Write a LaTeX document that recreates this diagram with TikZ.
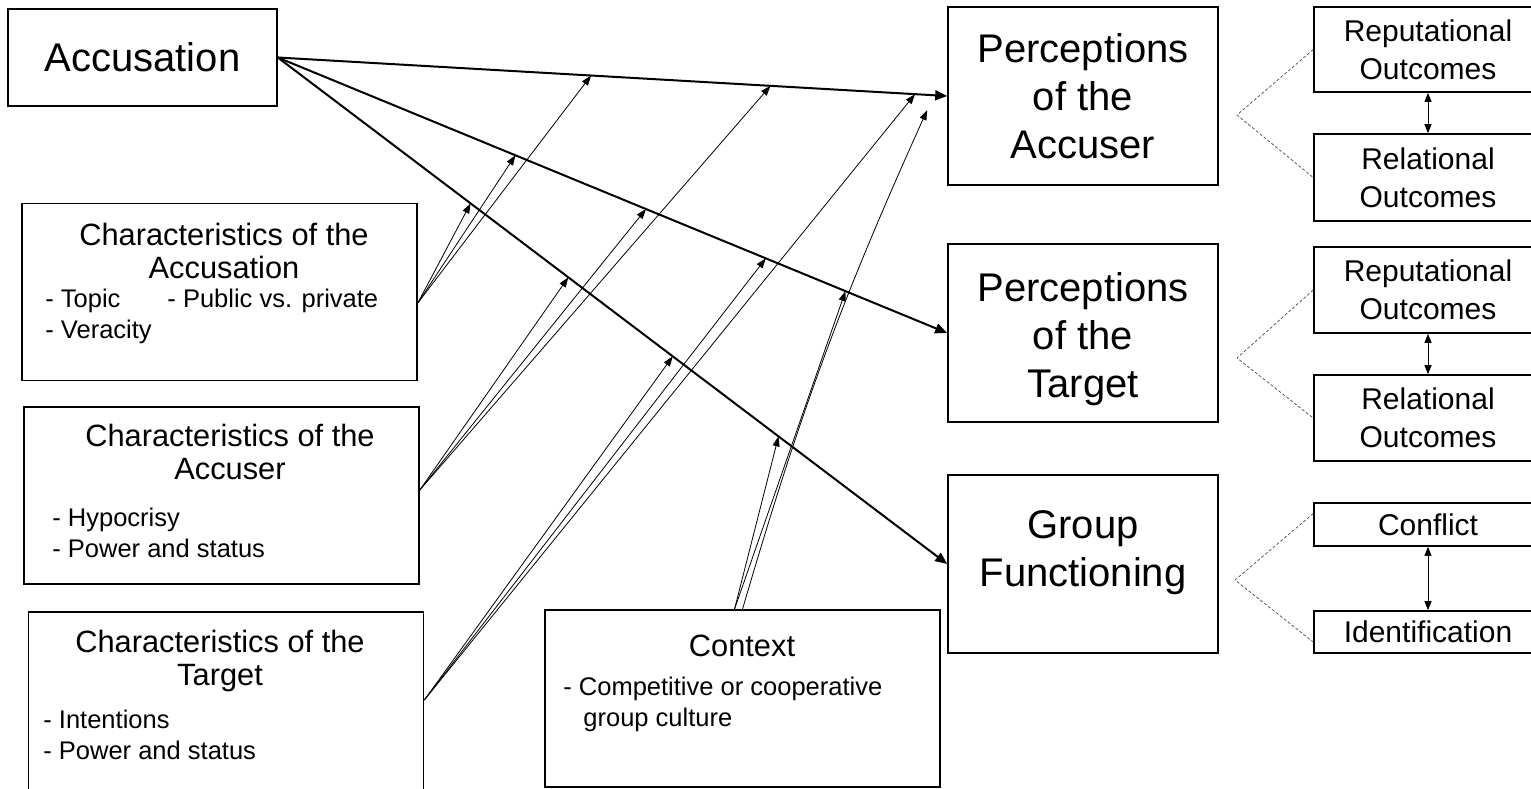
\documentclass[tikz,border=0pt]{standalone}
\usepackage{fontspec}
\setmainfont{Liberation Sans}
\usetikzlibrary{arrows.meta,positioning,calc}

\begin{document}
\begin{tikzpicture}[
        x=0.5pt, y=-0.5pt,
        box/.style={rectangle, draw, line width=0.8pt, inner sep=0pt},
        bigbox/.style={box, minimum width=135pt, minimum height=89pt, align=center, font=\fontsize{20}{24}\selectfont},
        bigtext/.style={inner sep=0pt, align=center, font=\fontsize{20}{24}\selectfont},
        charbox/.style={box, minimum width=197.5pt, minimum height=88.5pt},
        outbox/.style={box, minimum width=114pt, align=center, font=\fontsize{15}{19}\selectfont},
        headtext/.style={inner sep=0pt, align=center, font=\fontsize{15.4}{16.5}\selectfont},
        items/.style={inner sep=0pt, anchor=west, align=left, font=\fontsize{12.75}{15.5}\selectfont},
        main/.style={-{Triangle[length=6pt,width=5pt]}, line width=1pt},
        mod/.style={-{Triangle[length=5pt,width=3.5pt]}, line width=0.4pt},
        twoway/.style={{Triangle[length=4.5pt,width=3.5pt]}-{Triangle[length=4.5pt,width=3.5pt]}, line width=0.5pt},
        link/.style={dash pattern=on 1.5pt off 1pt, line width=0.35pt, black!70}
    ]
        \useasboundingbox (0,0) rectangle (1531,788);
        \fill[white] (0,0) rectangle (1531,788);

        % predictor and outcomes
        \node[box, minimum width=134.5pt, minimum height=48.5pt, font=\fontsize{20}{24}\selectfont] (acc) at (142.5,57.5) {Accusation};
        \node[bigbox] (pacc) at (1083,96) {Perceptions\\of the\\Accuser};
        \node[bigbox] (ptar) at (1083,333) {};
        \node[bigtext] (ptartext) at ([yshift=-3pt]ptar.center) {Perceptions\\of the\\Target};
        \node[bigbox] (grp) at (1083,564) {};
        \node[bigtext] (grptext) at ([yshift=5.5pt]grp.center) {Group\\Functioning};

        % moderators
        \node[charbox] (cacc) at (219.5,292) {};
        \node[headtext] (cacctitle) at (224,250.5) {Characteristics of the\\Accusation};
        \node[items] (caccitems) at (45,316.5) {- Topic\hspace{23.5pt}- Public vs. private\\- Veracity};

        \node[charbox] (cacr) at (221.5,495.5) {};
        \node[headtext] (cacrtitle) at (230,452) {Characteristics of the\\Accuser};
        \node[items] (cacritems) at (52,533) {- Hypocrisy\\- Power and status};

        \node[charbox, minimum height=94pt] (ctar) at (226,706) {};
        \node[headtext] (ctartitle) at (220,661.5) {Characteristics of the\\Target};
        \node[items] (ctaritems) at (43,735) {- Intentions\\- Power and status};

        \node[charbox] (ctx) at (742.5,698.5) {};
        \node[headtext] (ctxtitle) at (742,646) {Context};
        \node[items] (ctxitems) at (563,704) {- Competitive or cooperative\\\hspace*{10pt}group culture};

        % outcome details
        \node[outbox, minimum height=42.5pt] (rep1) at (1428,49.5) {Reputational\\Outcomes};
        \node[outbox, minimum height=43.5pt] (rel1) at (1428,177.5) {Relational\\Outcomes};
        \node[outbox, minimum height=43pt] (rep2) at (1428,290) {Reputational\\Outcomes};
        \node[outbox, minimum height=43pt] (rel2) at (1428,418) {Relational\\Outcomes};
        \node[outbox, minimum height=21.5pt] (conf) at (1428,524.5) {Conflict};
        \node[outbox, minimum height=21pt] (ident) at (1428,632) {Identification};

        \draw[twoway] (rep1) -- (rel1);
        \draw[twoway] (rep2) -- (rel2);
        \draw[twoway] (conf) -- (ident);

        \coordinate (fork1) at (1237,115);
        \coordinate (fork2) at (1237,358);
        \coordinate (fork3) at (1235,580);
        \draw[link] (rep1.west) -- (fork1) -- (rel1.west);
        \draw[link] (rep2.west) -- (fork2) -- (rel2.west);
        \draw[link] ([yshift=5.5pt]conf.west) -- (fork3) -- ([yshift=-5pt]ident.west);

        % main effects
        \draw[main] (acc.east) -- (pacc.west);
        \draw[main] (acc.east) -- (ptar.west);
        \draw[main] (acc.east) -- (grp.west);
        \path (acc.east) -- (pacc.west) coordinate[pos=0.468] (a1) coordinate[pos=0.736] (a2) coordinate[pos=0.952] (a3);
        \path (acc.east) -- (ptar.west) coordinate[pos=0.355] (b1) coordinate[pos=0.55] (b2) coordinate[pos=0.729] (b3) coordinate[pos=0.848] (b4);
        \path (acc.east) -- (grp.west) coordinate[pos=0.288] (c1) coordinate[pos=0.434] (c2) coordinate[pos=0.59] (c3) coordinate[pos=0.748] (c4);
        \coordinate (a4) at ([xshift=-10pt,yshift=-7pt]pacc.west);

        % moderating paths
        \coordinate (f1) at ([yshift=-5.5pt]cacc.east);
        \coordinate (f2) at ([yshift=2.75pt]cacr.east);
        \coordinate (f3) at ([yshift=3pt]ctar.east);
        \coordinate (f4) at ([xshift=-4pt]ctx.north);
        \foreach \t in {a1,b1,c1} \draw[mod] (f1) -- (\t);
        \foreach \t in {a2,b2,c2} \draw[mod] (f2) -- (\t);
        \foreach \t in {a3,b3,c3} \draw[mod] (f3) -- (\t);
        \draw[mod] (f4) -- (c4);
        \draw[mod] (f4) -- (b4);
        \draw[mod, bend left=4] (ctx.north) to (a4);
    \end{tikzpicture}
\end{document}
